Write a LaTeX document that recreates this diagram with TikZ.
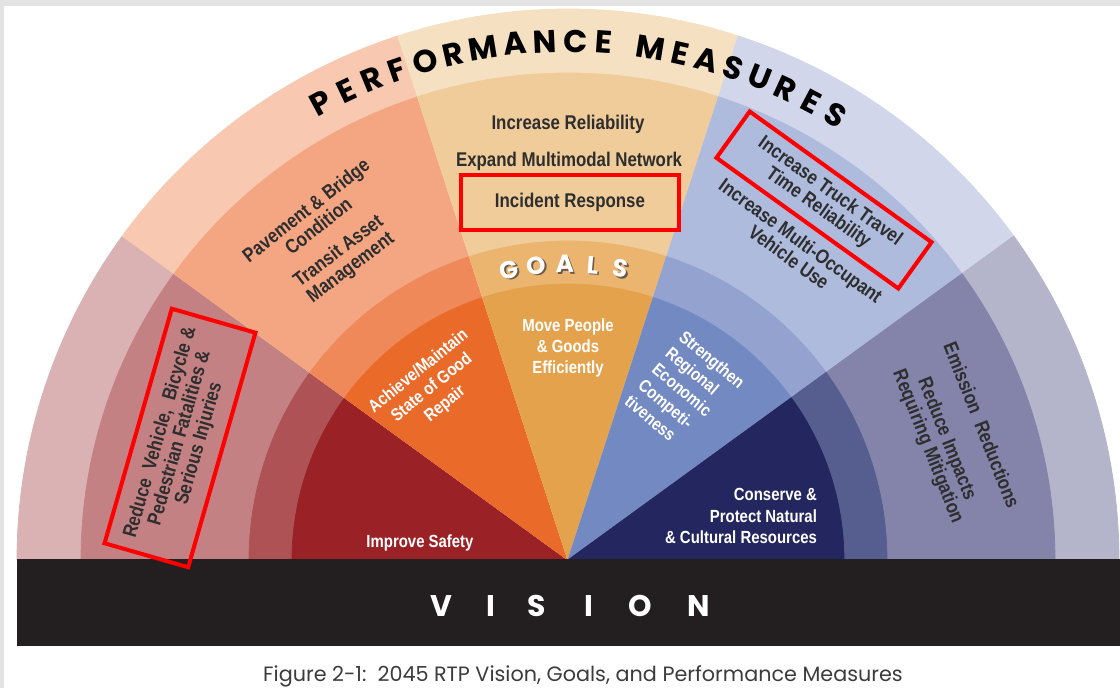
\documentclass[tikz,border=0pt]{standalone}
\usepackage{fontspec}
\setmainfont{Liberation Sans}
\newfontfamily\narrowsans[FakeStretch=0.85]{Liberation Sans}
\newfontfamily\headsans{Poppins}
\definecolor{framegrey}{HTML}{E3E3E3}
\definecolor{safein}{HTML}{9A2227}
\definecolor{safeband}{HTML}{AE5256}
\definecolor{safemea}{HTML}{C38183}
\definecolor{safeout}{HTML}{DAB2B4}
\definecolor{repin}{HTML}{EA6A2A}
\definecolor{repband}{HTML}{F0895A}
\definecolor{repmea}{HTML}{F4A683}
\definecolor{repout}{HTML}{F8C9B0}
\definecolor{movein}{HTML}{E5A24C}
\definecolor{moveband}{HTML}{EBB570}
\definecolor{movemea}{HTML}{F0CC9B}
\definecolor{moveout}{HTML}{F5E0C2}
\definecolor{econin}{HTML}{7289C2}
\definecolor{econband}{HTML}{93A2CF}
\definecolor{econmea}{HTML}{AEBBDD}
\definecolor{econout}{HTML}{D1D6EA}
\definecolor{natin}{HTML}{24275F}
\definecolor{natband}{HTML}{565D8F}
\definecolor{natmea}{HTML}{8483A9}
\definecolor{natout}{HTML}{B4B4CB}
\definecolor{visionblack}{HTML}{231F20}
\definecolor{meagrey}{HTML}{2E2E2E}
\definecolor{boxred}{HTML}{FF0000}
\definecolor{shadowgrey}{HTML}{6A5A4A}
\definecolor{captiongrey}{HTML}{3C3C3C}

\begin{document}
\begin{tikzpicture}[x=0.02cm,y=0.02cm,
  goaltext/.style={text=white,font=\narrowsans\bfseries\fontsize{10}{12}\selectfont,align=center,inner sep=0pt},
  meastext/.style={text=meagrey,font=\narrowsans\bfseries\fontsize{11.3}{11.5}\selectfont,align=center,inner sep=0pt},
  redbox/.style={draw=boxred,line width=2.3pt},
  pmletter/.style={font=\headsans\bfseries\fontsize{18}{18}\selectfont,inner sep=0pt},
  goalletter/.style={font=\headsans\bfseries\fontsize{14}{14}\selectfont,inner sep=0pt},
  visionletter/.style={text=white,font=\headsans\bfseries\fontsize{17}{17}\selectfont,inner sep=0pt}]
\useasboundingbox (-568,-128) rectangle (552,560);
\fill[framegrey] (-568,-128) rectangle (552,560);
\fill[white] (-564,-128) rectangle (552,554);
\filldraw[safeout] (0,0) -- (144:551) arc (144:180:551) -- cycle;
\filldraw[safemea] (0,0) -- (144:487) arc (144:180:487) -- cycle;
\filldraw[safeband] (0,0) -- (144:319) arc (144:180:319) -- cycle;
\filldraw[safein] (0,0) -- (144:276) arc (144:180:276) -- cycle;
\filldraw[repout] (0,0) -- (108:551) arc (108:144:551) -- cycle;
\filldraw[repmea] (0,0) -- (108:487) arc (108:144:487) -- cycle;
\filldraw[repband] (0,0) -- (108:319) arc (108:144:319) -- cycle;
\filldraw[repin] (0,0) -- (108:276) arc (108:144:276) -- cycle;
\filldraw[moveout] (0,0) -- (72:551) arc (72:108:551) -- cycle;
\filldraw[movemea] (0,0) -- (72:487) arc (72:108:487) -- cycle;
\filldraw[moveband] (0,0) -- (72:319) arc (72:108:319) -- cycle;
\filldraw[movein] (0,0) -- (72:276) arc (72:108:276) -- cycle;
\filldraw[econout] (0,0) -- (36:551) arc (36:72:551) -- cycle;
\filldraw[econmea] (0,0) -- (36:487) arc (36:72:487) -- cycle;
\filldraw[econband] (0,0) -- (36:319) arc (36:72:319) -- cycle;
\filldraw[econin] (0,0) -- (36:276) arc (36:72:276) -- cycle;
\filldraw[natout] (0,0) -- (0:551) arc (0:36:551) -- cycle;
\filldraw[natmea] (0,0) -- (0:487) arc (0:36:487) -- cycle;
\filldraw[natband] (0,0) -- (0:319) arc (0:36:319) -- cycle;
\filldraw[natin] (0,0) -- (0:276) arc (0:36:276) -- cycle;
\fill[visionblack] (-551,1) rectangle (552,-86);
\foreach \ch/\x [count=\i] in {V/-127,I/-77,S/-31,I/21,O/72,N/131}
  \node[visionletter] (vision\i) at (\x,-46) {\ch};
\foreach \ch/\a [count=\i] in {P/118.4,E/115.3,R/112.2,F/109.2,O/106,R/102.8,M/99.4,A/95.9,N/92.6,C/89.2,E/86.0,M/80.8,E/77.5,A/74.5,S/71.4,U/68.3,R/65.2,E/62.1,S/59.0}
  \node[pmletter,rotate=\a-90] (perf\i) at (\a:519) {\ch};
\foreach \ch/\a [count=\i] in {G/101.5,O/96.1,A/90.6,L/85.2,S/79.7} {
  \node[goalletter,text=shadowgrey,rotate=\a-90] (goalshade\i) at ([shift={(1.5,-1.5)}]\a:296) {\ch};
  \node[goalletter,text=white,rotate=\a-90] (goal\i) at (\a:296) {\ch};
}
\node[goaltext] (safetygoal) at (-148,17) {Improve Safety};
\node[goaltext,rotate=39] (repairgoal) at (-136,172) {Achieve/Maintain\\State of Good\\Repair};
\node[goaltext] (movegoal) at (0,212) {Move People\\\& Goods\\Efficiently};
\node[goaltext,rotate=-40,align=left] (econgoal) at (117,168) {Strengthen\\Regional\\Economic\\Competi-\\tiveness};
\node[goaltext,align=right] (natgoal) at (173,44) {Conserve \&\\Protect Natural\\\& Cultural Resources};
\node[meastext,redbox,rotate=74,minimum width=4.88cm,minimum height=1.74cm] (safetymea) at (-388,122) {Reduce\ \ Vehicle,\ \ Bicycle \&\\Pedestrian Fatalities \&\\Serious Injuries};
\node[meastext,rotate=38] (bridgemea) at (-256,342) {Pavement \& Bridge\\Condition};
\node[meastext,rotate=37] (transitmea) at (-223,300) {Transit Asset\\Management};
\node[meastext] (reliabmea) at (0,436) {Increase Reliability};
\node[meastext] (networkmea) at (1,399) {Expand Multimodal Network};
\node[meastext,redbox,minimum width=4.36cm,minimum height=1.1cm] (incidentmea) at (2,357.5) {Incident Response};
\node[meastext,redbox,rotate=-35.7,minimum width=4.48cm,minimum height=1.14cm] (truckmea) at (256,360) {Increase Truck Travel\\Time Reliability};
\node[meastext,rotate=-36] (hovmea) at (227,311) {Increase Multi-Occupant\\Vehicle Use};
\node[meastext,rotate=-68.5] (emismea) at (414,135) {Emission\ \ Reductions};
\node[meastext,rotate=-68.5] (impactmea) at (369,117) {Reduce Impacts\\Requiring Mitigation};
\node[font=\headsans\fontsize{11.8}{13}\selectfont,text=captiongrey] (caption) at (15,-116) {Figure 2-1:\ \ 2045 RTP Vision, Goals, and Performance Measures};
\end{tikzpicture}
\end{document}
